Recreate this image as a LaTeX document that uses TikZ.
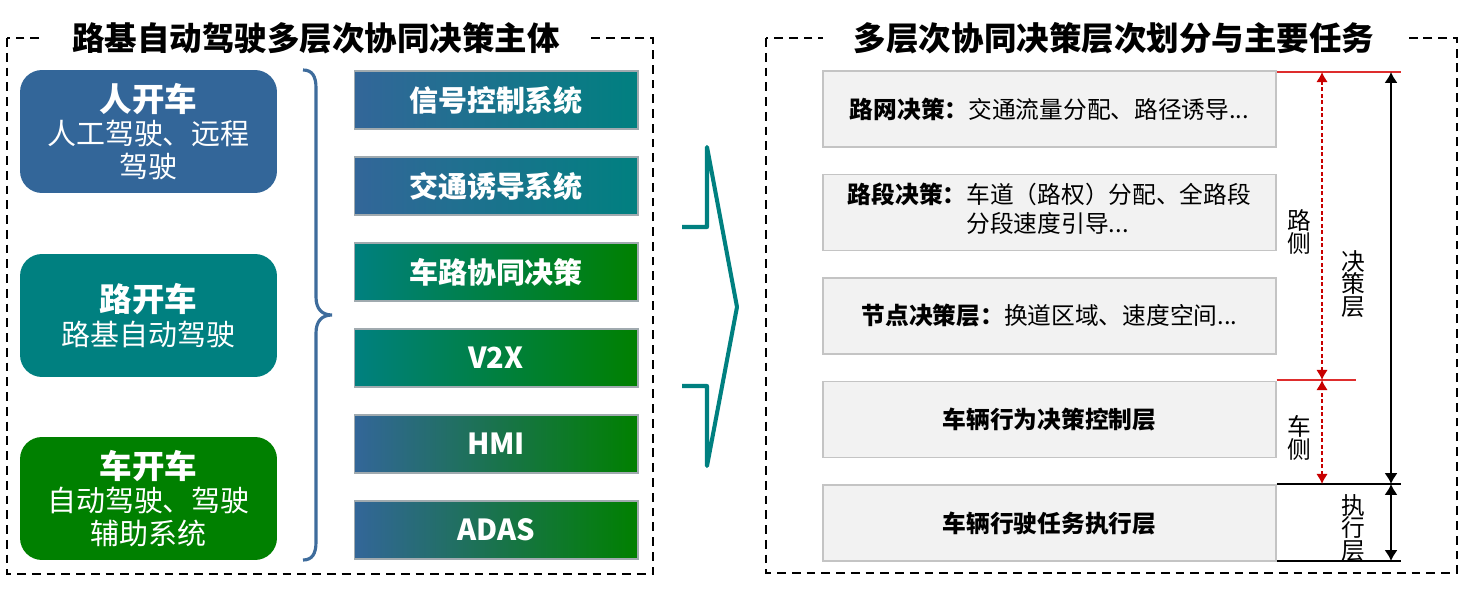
\documentclass[tikz,border=0pt]{standalone}
\usepackage{fontspec}
\setmainfont{Noto Sans CJK SC}
\usetikzlibrary{arrows.meta}
\definecolor{bleu}{RGB}{51,102,153}
\definecolor{sarcelle}{RGB}{0,128,128}
\definecolor{vert}{RGB}{0,128,0}
\definecolor{accol}{RGB}{62,108,156}
\definecolor{fond}{RGB}{242,242,242}
\definecolor{bord}{RGB}{196,196,196}
\definecolor{bordsys}{RGB}{160,170,175}
\definecolor{rouge}{RGB}{200,0,0}
\definecolor{rougeclair}{RGB}{222,45,45}
\begin{document}
\begin{tikzpicture}[x=0.02cm,y=-0.02cm]
% Styles
\tikzstyle{cadre}=[draw=black,line width=1.1pt,dash pattern=on 5pt off 3.4pt]
\tikzstyle{titre}=[fill=white,inner xsep=0.62cm,inner ysep=3pt,font=\fontsize{18.5}{22}\selectfont\bfseries]
\tikzstyle{mode}=[rounded corners=0.44cm,minimum width=5.14cm,minimum height=2.46cm,text=white,align=center,font=\fontsize{16.5}{19}\selectfont]
\tikzstyle{systeme}=[draw=bordsys,line width=0.6pt,minimum width=5.68cm,minimum height=1.16cm,text=white,font=\fontsize{16.5}{19}\selectfont\bfseries]
\tikzstyle{couche}=[draw=bord,fill=fond,line width=0.7pt,minimum width=9.06cm,minimum height=1.52cm,align=center,font=\fontsize{13.5}{16.5}\selectfont]
\tikzstyle{legende}=[align=center,inner sep=0pt,font=\fontsize{13.5}{13}\selectfont]
\tikzstyle{accolade}=[draw=accol,line width=1.8pt]
\tikzstyle{chevron}=[draw=sarcelle,line width=2.3pt,line join=round]
\tikzstyle{repere}=[line width=0.85pt]
\tikzstyle{fleche}=[<->,>={Latex[length=6.2pt,width=7.5pt]},line width=1.1pt]
\tikzstyle{flecherouge}=[<->,>={Latex[length=5.7pt,width=6.5pt]},line width=0.85pt,rouge,dash pattern=on 2.3pt off 1.4pt]
% Dimensions
\def\ColA{148.5}
\def\ColB{496}
\def\ColC{1049.5}
\def\ColRouge{1322}
\def\ColNoir{1391}
\def\PasSysteme{86}
\def\PasCouche{103.5}
\def\Entete#1{{\bfseries\fontsize{18.5}{20}\selectfont #1}}
\useasboundingbox (0,0) rectangle (1469,588);
% Cadres
\draw[cadre] (7,38) rectangle (653,574);
\draw[cadre] (766,38) rectangle (1457,573);
\node[titre] (titreA) at (316,38) {路基自动驾驶多层次协同决策主体};
\node[titre] (titreB) at (1114,38) {多层次协同决策层次划分与主要任务};
% Noeuds
\node[mode,fill=bleu] (humain) at (\ColA,131.5) {\Entete{人开车}\\人工驾驶、远程\\驾驶};
\node[mode,fill=sarcelle] (route) at (\ColA,315.5) {\Entete{路开车}\\路基自动驾驶};
\node[mode,fill=vert] (vehicule) at (\ColA,498.5) {\Entete{车开车}\\自动驾驶、驾驶\\辅助系统};
\node[systeme,left color=bleu,right color=sarcelle] (signal) at (\ColB,{100+0*\PasSysteme}) {信号控制系统};
\node[systeme,left color=bleu,right color=sarcelle] (guidage) at (\ColB,{100+1*\PasSysteme}) {交通诱导系统};
\node[systeme,left color=sarcelle,right color=vert] (cooperation) at (\ColB,{100+2*\PasSysteme}) {车路协同决策};
\node[systeme,left color=sarcelle,right color=vert] (vdx) at (\ColB,{100+3*\PasSysteme}) {V2X};
\node[systeme,left color=bleu,right color=vert] (hmi) at (\ColB,{100+4*\PasSysteme}) {HMI};
\node[systeme,left color=bleu,right color=vert] (adas) at (\ColB,{100+5*\PasSysteme}) {ADAS};
\node[couche] (reseau) at (\ColC,{109+0*\PasCouche}) {\textbf{路网决策：}交通流量分配、路径诱导...};
\node[couche] (troncon) at (\ColC,{109+1*\PasCouche}) {\textbf{路段决策：}\begin{tabular}[t]{@{}l@{}}车道（路权）分配、全路段\\分段速度引导...\end{tabular}};
\node[couche] (noeud) at (\ColC,{109+2*\PasCouche}) {\textbf{节点决策层：}换道区域、速度空间...};
\node[couche] (comportement) at (\ColC,{109+3*\PasCouche}) {\textbf{车辆行为决策控制层}};
\node[couche] (execution) at (\ColC,{109+4*\PasCouche}) {\textbf{车辆行驶任务执行层}};
\node[legende] (lRoute) at (1299,232) {路\\侧};
\node[legende] (lDecision) at (1353,284) {决\\策\\层};
\node[legende] (lVehicule) at (1299,438) {车\\侧};
\node[legende] (lExecution) at (1353,528) {执\\行\\层};
% Reperes
\coordinate (t1) at (1401,72);
\coordinate (t2) at (1356,380);
\coordinate (t3) at (1401,484);
\coordinate (t4) at (1401,561);
\coordinate (r1) at (\ColRouge,72);
\coordinate (r2) at (\ColRouge,380);
\coordinate (r3) at (\ColRouge,484);
\coordinate (n1) at (\ColNoir,72);
\coordinate (n2) at (\ColNoir,484);
\coordinate (n3) at (\ColNoir,561);
% Accolade et chevron
\draw[accolade] (303,70) .. controls (312,70) and (316,76) .. (316,88) -- (316,297)
  .. controls (316,309) and (322,315) .. (332,315)
  .. controls (322,315) and (316,321) .. (316,333) -- (316,542)
  .. controls (316,554) and (312,560) .. (303,560);
\draw[chevron] (682,227) -- (707,227) -- (707,147) -- (737,307) -- (707,466) -- (707,386) -- (682,386);
% Arcs
\draw[repere,rougeclair] (reseau.north east |- t1) -- (t1);
\draw[repere,rougeclair] (comportement.north east |- t2) -- (t2);
\draw[repere] (execution.north east |- t3) -- (t3);
\draw[repere] (execution.south east |- t4) -- (t4);
\draw[flecherouge] (r2) -- (r1);
\draw[flecherouge] (r3) -- (r2);
\draw[fleche] (n2) -- (n1);
\draw[fleche] (n3) -- (n2);
\end{tikzpicture}
\end{document}
